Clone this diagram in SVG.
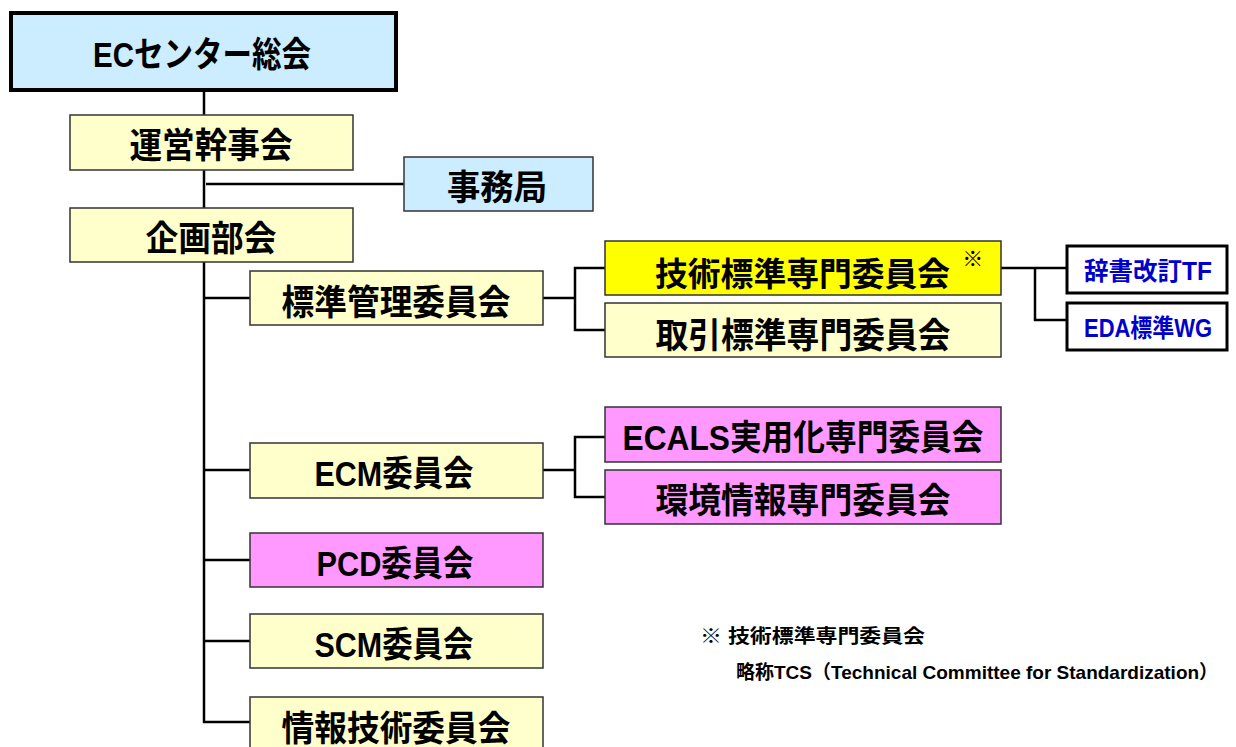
<svg xmlns="http://www.w3.org/2000/svg" width="1236" height="747" viewBox="0 0 1236 747">
<style>
.t{font-family:"Liberation Sans","Noto Sans CJK JP",sans-serif;font-weight:bold;fill:#000;text-anchor:middle;dominant-baseline:central}
.big{font-size:35px}
.blue{fill:#0000CC;font-size:25px}
.note{font-family:"Liberation Sans","Noto Sans CJK JP",sans-serif;font-weight:bold;font-size:19px;fill:#000}
.box{stroke:#333;stroke-width:1.5}
.ly{fill:#FFFFCC}
.pk{fill:#FF99FF}
.bl{fill:#CCECFF}
.ln{fill:none;stroke:#000;stroke-width:2.5}
</style>
<rect width="1236" height="747" fill="#fff"/>
<g id="connectors">
<path class="ln" d="M204 90V115M204 170V208M206 184H404M204 262V722H250M204 298H250M204 470H250M204 560H250M204 641H250"/>
<path class="ln" d="M543 298H575M605 268H575V330H605"/>
<path class="ln" d="M543 470H575M605 437H575V497H605"/>
<path class="ln" d="M1001 268H1066M1035 268V320H1066"/>
</g>
<g id="n-sokai"><rect x="11" y="13" width="385" height="77" class="bl" stroke="#000" stroke-width="4"/><text class="t big" x="202" y="54" textLength="218" lengthAdjust="spacingAndGlyphs">ECセンター総会</text></g>
<g id="n-unei"><rect x="70" y="115" width="283" height="55" class="box ly"/><text class="t big" x="211" y="145" textLength="163" lengthAdjust="spacingAndGlyphs">運営幹事会</text></g>
<g id="n-jimu"><rect x="404" y="157" width="189" height="54" class="box bl"/><text class="t big" x="497" y="187" textLength="100" lengthAdjust="spacingAndGlyphs">事務局</text></g>
<g id="n-kikaku"><rect x="70" y="208" width="283" height="54" class="box ly"/><text class="t big" x="211" y="238" textLength="131" lengthAdjust="spacingAndGlyphs">企画部会</text></g>
<g id="n-hyojun"><rect x="250" y="271" width="293" height="54" class="box ly"/><text class="t big" x="396" y="302" textLength="229" lengthAdjust="spacingAndGlyphs">標準管理委員会</text></g>
<g id="n-gijutsu"><rect x="605" y="241" width="396" height="54" class="box" fill="#FFFF00"/><text class="t" x="655" y="274" style="text-anchor:start"><tspan font-size="32.8">技術標準専門委員会</tspan><tspan dx="12" dy="-16" font-size="21">※</tspan></text></g>
<g id="n-torihiki"><rect x="605" y="303" width="396" height="54" class="box ly"/><text class="t big" x="803" y="335" textLength="295" lengthAdjust="spacingAndGlyphs">取引標準専門委員会</text></g>
<g id="n-jisho"><rect x="1067" y="246" width="160" height="47" fill="#fff" stroke="#000" stroke-width="3"/><text class="t blue" x="1148" y="271" textLength="128" lengthAdjust="spacingAndGlyphs">辞書改訂TF</text></g>
<g id="n-eda"><rect x="1067" y="303" width="160" height="47" fill="#fff" stroke="#000" stroke-width="3"/><text class="t blue" x="1148" y="328" textLength="128" lengthAdjust="spacingAndGlyphs">EDA標準WG</text></g>
<g id="n-ecm"><rect x="250" y="443" width="293" height="55" class="box ly"/><text class="t big" x="394" y="473" textLength="159" lengthAdjust="spacingAndGlyphs">ECM委員会</text></g>
<g id="n-ecals"><rect x="605" y="407" width="396" height="55" class="box pk"/><text class="t big" x="803" y="437" textLength="361" lengthAdjust="spacingAndGlyphs">ECALS実用化専門委員会</text></g>
<g id="n-kankyo"><rect x="605" y="470" width="396" height="54" class="box pk"/><text class="t big" x="803" y="500" textLength="295" lengthAdjust="spacingAndGlyphs">環境情報専門委員会</text></g>
<g id="n-pcd"><rect x="250" y="533" width="293" height="54" class="box pk"/><text class="t big" x="395" y="563" textLength="157" lengthAdjust="spacingAndGlyphs">PCD委員会</text></g>
<g id="n-scm"><rect x="250" y="614" width="293" height="54" class="box ly"/><text class="t big" x="394" y="644" textLength="159" lengthAdjust="spacingAndGlyphs">SCM委員会</text></g>
<g id="n-joho"><rect x="250" y="697" width="293" height="60" class="box ly"/><text class="t big" x="396" y="728" textLength="229" lengthAdjust="spacingAndGlyphs">情報技術委員会</text></g>
<g id="note">
<text class="note" x="700" y="643" textLength="225" lengthAdjust="spacingAndGlyphs">※ 技術標準専門委員会</text>
<text class="note" x="736" y="679">略称TCS（Technical Committee for Standardization）</text>
</g>
</svg>
